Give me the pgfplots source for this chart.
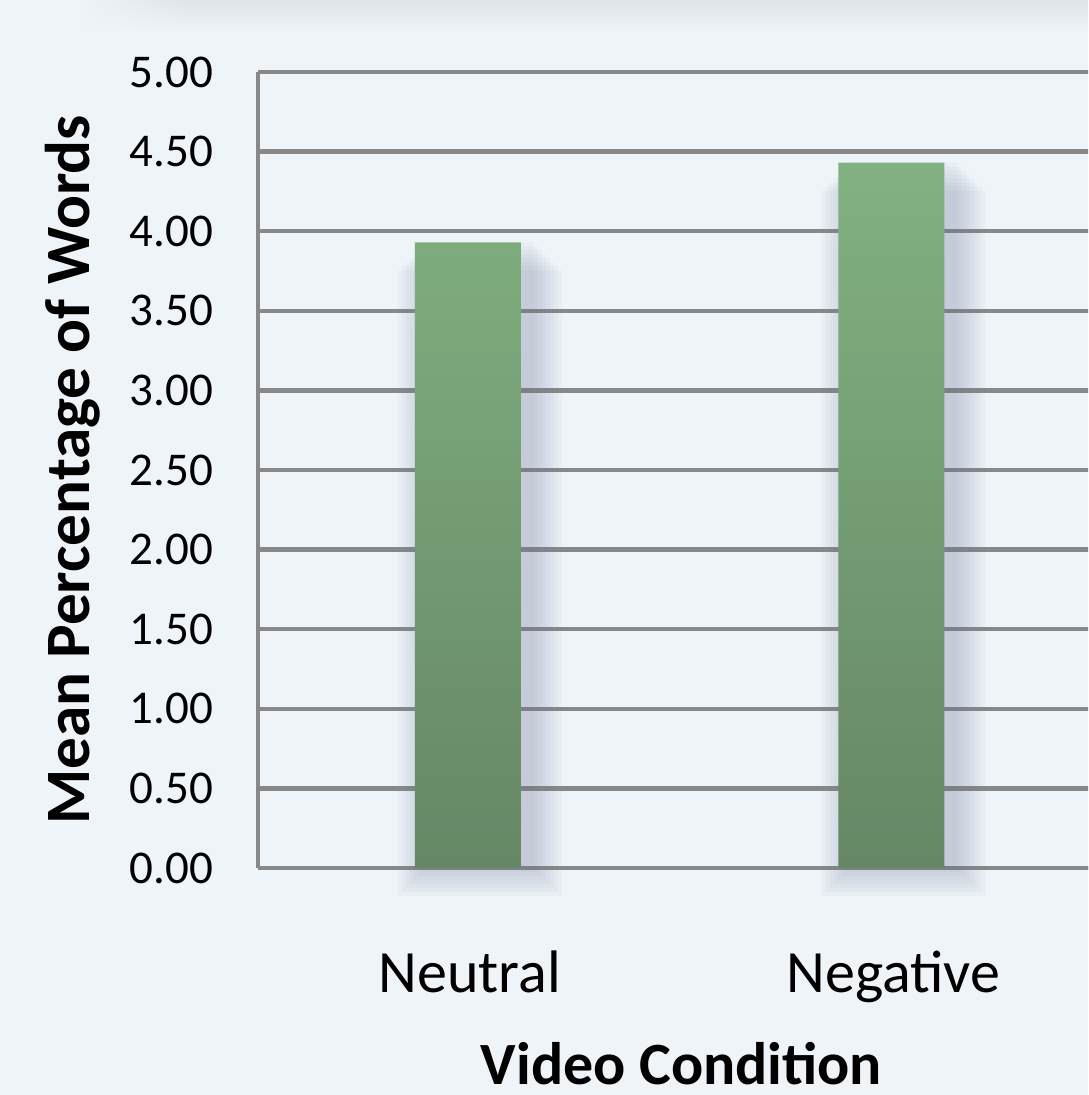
\documentclass[border=0pt]{standalone}
\usepackage{pgfplots}
\usepackage{pgfplotstable}
\pgfplotsset{compat=1.18}
\usetikzlibrary{fadings}
\usepackage{fontspec}
\setmainfont{Carlito}
\definecolor{bg}{RGB}{239,244,249}
\definecolor{gridc}{RGB}{136,136,136}
\definecolor{bartop}{RGB}{130,177,130}
\definecolor{barbot}{RGB}{101,135,101}
\definecolor{shadowc}{RGB}{110,118,150}
\definecolor{topband}{RGB}{224,228,233}
\pgfplotstableread{
x y
0 3.93
1 4.43
}\datatable
\pgfplotsset{shadowbar/.style={draw=none, fill=shadowc, fill opacity=0.045, bar shift=5pt}}
\begin{document}
\begin{tikzpicture}
\clip (0,0) rectangle (544pt,547.5pt);
\fill[bg] (0,0) rectangle (544pt,547.5pt);
\shade[top color=topband, bottom color=bg] (40pt,532pt) rectangle (544pt,547.5pt);
\fill[bg, path fading=east] (40pt,531pt) rectangle (95pt,547.5pt);
\begin{axis}[
  scale only axis,
  width=423.5pt, height=398pt,
  at={(129pt,113.5pt)}, anchor=south west,
  ybar, bar width=53pt,
  xmin=-0.5, xmax=1.5,
  ymin=0, ymax=5,
  ytick={0,0.5,...,5},
  xtick={0,1},
  xticklabels={Neutral,Negative},
  axis x line*=bottom,
  axis y line*=left,
  axis line style={gridc, line width=2.2pt},
  ymajorgrids,
  grid style={gridc, line width=2.2pt},
  major tick length=0pt,
  clip=false,
  /pgf/number format/assume math mode=true,
  /pgf/number format/.cd, fixed, fixed zerofill, precision=2,
  /pgfplots/.cd,
  yticklabel style={font=\fontsize{23.5}{28}\selectfont, text=black, anchor=east, xshift=-19pt},
  xticklabel style={font=\fontsize{30}{36}\selectfont, text=black, anchor=base, yshift=-62pt},
  xlabel={Video Condition},
  ylabel={Mean Percentage of Words},
  every axis x label/.style={at={(axis description cs:0.5,-0.2726)}, anchor=base, inner sep=1pt, font=\fontsize{30}{36}\selectfont\bfseries},
  every axis y label/.style={at={(axis description cs:-0.1995,0.5)}, anchor=base, rotate=90, font=\fontsize{31.6}{38}\selectfont\bfseries},
]
\addplot[shadowbar, bar width=54pt, yshift=0pt] table[x=x, y=y] {\datatable};
\addplot[shadowbar, bar width=58pt, yshift=-2pt] table[x=x, y=y] {\datatable};
\addplot[shadowbar, bar width=62pt, yshift=-4pt] table[x=x, y=y] {\datatable};
\addplot[shadowbar, bar width=66pt, yshift=-6pt] table[x=x, y=y] {\datatable};
\addplot[shadowbar, bar width=70pt, yshift=-8pt] table[x=x, y=y] {\datatable};
\addplot[shadowbar, bar width=74pt, yshift=-10pt] table[x=x, y=y] {\datatable};
\addplot[shadowbar, bar width=78pt, yshift=-12pt] table[x=x, y=y] {\datatable};
\addplot[shadowbar, bar width=82pt, yshift=-14pt] table[x=x, y=y] {\datatable};
\addplot[draw=none, top color=bartop, bottom color=barbot, bar shift=-1pt] table[x=x, y=y] {\datatable};
\end{axis}
\end{tikzpicture}
\end{document}
